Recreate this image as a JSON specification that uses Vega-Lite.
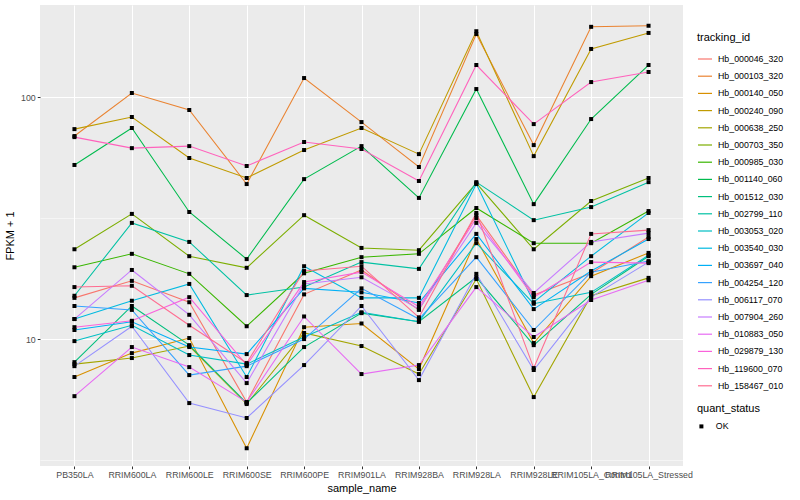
{
  "$schema": "https://vega.github.io/schema/vega-lite/v6.json",
  "width": 643,
  "height": 461,
  "autosize": "none",
  "padding": {"left": 40, "top": 5, "right": 117, "bottom": 34},
  "background": "white",
  "config": {
    "font": "Liberation Sans",
    "view": {"fill": "#EBEBEB", "stroke": null},
    "legend": {"titleFontSize": 11, "titleFontWeight": "normal", "titleColor": "black", "labelFontSize": 8.8, "labelColor": "black"}
  },
  "data": {"values": [
    {"tracking_id":"Hb_000046_320","sample_name":"PB350LA","fpkm":14.8,"quant_status":"OK"},
    {"tracking_id":"Hb_000046_320","sample_name":"RRIM600LA","fpkm":17.4,"quant_status":"OK"},
    {"tracking_id":"Hb_000046_320","sample_name":"RRIM600LE","fpkm":14.2,"quant_status":"OK"},
    {"tracking_id":"Hb_000046_320","sample_name":"RRIM600SE","fpkm":5.49,"quant_status":"OK"},
    {"tracking_id":"Hb_000046_320","sample_name":"RRIM600PE","fpkm":15.3,"quant_status":"OK"},
    {"tracking_id":"Hb_000046_320","sample_name":"RRIM901LA","fpkm":19.3,"quant_status":"OK"},
    {"tracking_id":"Hb_000046_320","sample_name":"RRIM928BA","fpkm":13.2,"quant_status":"OK"},
    {"tracking_id":"Hb_000046_320","sample_name":"RRIM928LA","fpkm":32.5,"quant_status":"OK"},
    {"tracking_id":"Hb_000046_320","sample_name":"RRIM928LE","fpkm":15.2,"quant_status":"OK"},
    {"tracking_id":"Hb_000046_320","sample_name":"RRIM105LA_Control","fpkm":18.7,"quant_status":"OK"},
    {"tracking_id":"Hb_000046_320","sample_name":"RRIM105LA_Stressed","fpkm":26.4,"quant_status":"OK"},
    {"tracking_id":"Hb_000103_320","sample_name":"PB350LA","fpkm":69.0,"quant_status":"OK"},
    {"tracking_id":"Hb_000103_320","sample_name":"RRIM600LA","fpkm":103.9,"quant_status":"OK"},
    {"tracking_id":"Hb_000103_320","sample_name":"RRIM600LE","fpkm":88.4,"quant_status":"OK"},
    {"tracking_id":"Hb_000103_320","sample_name":"RRIM600SE","fpkm":43.7,"quant_status":"OK"},
    {"tracking_id":"Hb_000103_320","sample_name":"RRIM600PE","fpkm":119.8,"quant_status":"OK"},
    {"tracking_id":"Hb_000103_320","sample_name":"RRIM901LA","fpkm":78.8,"quant_status":"OK"},
    {"tracking_id":"Hb_000103_320","sample_name":"RRIM928BA","fpkm":51.4,"quant_status":"OK"},
    {"tracking_id":"Hb_000103_320","sample_name":"RRIM928LA","fpkm":182,"quant_status":"OK"},
    {"tracking_id":"Hb_000103_320","sample_name":"RRIM928LE","fpkm":63.3,"quant_status":"OK"},
    {"tracking_id":"Hb_000103_320","sample_name":"RRIM105LA_Control","fpkm":195,"quant_status":"OK"},
    {"tracking_id":"Hb_000103_320","sample_name":"RRIM105LA_Stressed","fpkm":197,"quant_status":"OK"},
    {"tracking_id":"Hb_000140_050","sample_name":"PB350LA","fpkm":6.97,"quant_status":"OK"},
    {"tracking_id":"Hb_000140_050","sample_name":"RRIM600LA","fpkm":8.75,"quant_status":"OK"},
    {"tracking_id":"Hb_000140_050","sample_name":"RRIM600LE","fpkm":10.1,"quant_status":"OK"},
    {"tracking_id":"Hb_000140_050","sample_name":"RRIM600SE","fpkm":3.54,"quant_status":"OK"},
    {"tracking_id":"Hb_000140_050","sample_name":"RRIM600PE","fpkm":11.2,"quant_status":"OK"},
    {"tracking_id":"Hb_000140_050","sample_name":"RRIM901LA","fpkm":11.6,"quant_status":"OK"},
    {"tracking_id":"Hb_000140_050","sample_name":"RRIM928BA","fpkm":7.52,"quant_status":"OK"},
    {"tracking_id":"Hb_000140_050","sample_name":"RRIM928LA","fpkm":25.9,"quant_status":"OK"},
    {"tracking_id":"Hb_000140_050","sample_name":"RRIM928LE","fpkm":9.63,"quant_status":"OK"},
    {"tracking_id":"Hb_000140_050","sample_name":"RRIM105LA_Control","fpkm":18.2,"quant_status":"OK"},
    {"tracking_id":"Hb_000140_050","sample_name":"RRIM105LA_Stressed","fpkm":22.7,"quant_status":"OK"},
    {"tracking_id":"Hb_000240_090","sample_name":"PB350LA","fpkm":73.7,"quant_status":"OK"},
    {"tracking_id":"Hb_000240_090","sample_name":"RRIM600LA","fpkm":82.7,"quant_status":"OK"},
    {"tracking_id":"Hb_000240_090","sample_name":"RRIM600LE","fpkm":56.0,"quant_status":"OK"},
    {"tracking_id":"Hb_000240_090","sample_name":"RRIM600SE","fpkm":46.3,"quant_status":"OK"},
    {"tracking_id":"Hb_000240_090","sample_name":"RRIM600PE","fpkm":60.4,"quant_status":"OK"},
    {"tracking_id":"Hb_000240_090","sample_name":"RRIM901LA","fpkm":74.5,"quant_status":"OK"},
    {"tracking_id":"Hb_000240_090","sample_name":"RRIM928BA","fpkm":58.1,"quant_status":"OK"},
    {"tracking_id":"Hb_000240_090","sample_name":"RRIM928LA","fpkm":187,"quant_status":"OK"},
    {"tracking_id":"Hb_000240_090","sample_name":"RRIM928LE","fpkm":57.0,"quant_status":"OK"},
    {"tracking_id":"Hb_000240_090","sample_name":"RRIM105LA_Control","fpkm":158,"quant_status":"OK"},
    {"tracking_id":"Hb_000240_090","sample_name":"RRIM105LA_Stressed","fpkm":184,"quant_status":"OK"},
    {"tracking_id":"Hb_000638_250","sample_name":"PB350LA","fpkm":7.88,"quant_status":"OK"},
    {"tracking_id":"Hb_000638_250","sample_name":"RRIM600LA","fpkm":8.35,"quant_status":"OK"},
    {"tracking_id":"Hb_000638_250","sample_name":"RRIM600LE","fpkm":9.36,"quant_status":"OK"},
    {"tracking_id":"Hb_000638_250","sample_name":"RRIM600SE","fpkm":5.39,"quant_status":"OK"},
    {"tracking_id":"Hb_000638_250","sample_name":"RRIM600PE","fpkm":10.6,"quant_status":"OK"},
    {"tracking_id":"Hb_000638_250","sample_name":"RRIM901LA","fpkm":9.36,"quant_status":"OK"},
    {"tracking_id":"Hb_000638_250","sample_name":"RRIM928BA","fpkm":7.17,"quant_status":"OK"},
    {"tracking_id":"Hb_000638_250","sample_name":"RRIM928LA","fpkm":17.7,"quant_status":"OK"},
    {"tracking_id":"Hb_000638_250","sample_name":"RRIM928LE","fpkm":5.76,"quant_status":"OK"},
    {"tracking_id":"Hb_000638_250","sample_name":"RRIM105LA_Control","fpkm":15.1,"quant_status":"OK"},
    {"tracking_id":"Hb_000638_250","sample_name":"RRIM105LA_Stressed","fpkm":17.9,"quant_status":"OK"},
    {"tracking_id":"Hb_000703_350","sample_name":"PB350LA","fpkm":23.5,"quant_status":"OK"},
    {"tracking_id":"Hb_000703_350","sample_name":"RRIM600LA","fpkm":32.9,"quant_status":"OK"},
    {"tracking_id":"Hb_000703_350","sample_name":"RRIM600LE","fpkm":22.0,"quant_status":"OK"},
    {"tracking_id":"Hb_000703_350","sample_name":"RRIM600SE","fpkm":19.7,"quant_status":"OK"},
    {"tracking_id":"Hb_000703_350","sample_name":"RRIM600PE","fpkm":32.5,"quant_status":"OK"},
    {"tracking_id":"Hb_000703_350","sample_name":"RRIM901LA","fpkm":23.8,"quant_status":"OK"},
    {"tracking_id":"Hb_000703_350","sample_name":"RRIM928BA","fpkm":23.3,"quant_status":"OK"},
    {"tracking_id":"Hb_000703_350","sample_name":"RRIM928LA","fpkm":44.1,"quant_status":"OK"},
    {"tracking_id":"Hb_000703_350","sample_name":"RRIM928LE","fpkm":23.5,"quant_status":"OK"},
    {"tracking_id":"Hb_000703_350","sample_name":"RRIM105LA_Control","fpkm":37.2,"quant_status":"OK"},
    {"tracking_id":"Hb_000703_350","sample_name":"RRIM105LA_Stressed","fpkm":46.3,"quant_status":"OK"},
    {"tracking_id":"Hb_000985_030","sample_name":"PB350LA","fpkm":19.8,"quant_status":"OK"},
    {"tracking_id":"Hb_000985_030","sample_name":"RRIM600LA","fpkm":22.5,"quant_status":"OK"},
    {"tracking_id":"Hb_000985_030","sample_name":"RRIM600LE","fpkm":18.6,"quant_status":"OK"},
    {"tracking_id":"Hb_000985_030","sample_name":"RRIM600SE","fpkm":11.3,"quant_status":"OK"},
    {"tracking_id":"Hb_000985_030","sample_name":"RRIM600PE","fpkm":18.7,"quant_status":"OK"},
    {"tracking_id":"Hb_000985_030","sample_name":"RRIM901LA","fpkm":21.8,"quant_status":"OK"},
    {"tracking_id":"Hb_000985_030","sample_name":"RRIM928BA","fpkm":22.5,"quant_status":"OK"},
    {"tracking_id":"Hb_000985_030","sample_name":"RRIM928LA","fpkm":34.8,"quant_status":"OK"},
    {"tracking_id":"Hb_000985_030","sample_name":"RRIM928LE","fpkm":24.9,"quant_status":"OK"},
    {"tracking_id":"Hb_000985_030","sample_name":"RRIM105LA_Control","fpkm":24.9,"quant_status":"OK"},
    {"tracking_id":"Hb_000985_030","sample_name":"RRIM105LA_Stressed","fpkm":33.8,"quant_status":"OK"},
    {"tracking_id":"Hb_001140_060","sample_name":"PB350LA","fpkm":52.4,"quant_status":"OK"},
    {"tracking_id":"Hb_001140_060","sample_name":"RRIM600LA","fpkm":74.5,"quant_status":"OK"},
    {"tracking_id":"Hb_001140_060","sample_name":"RRIM600LE","fpkm":33.5,"quant_status":"OK"},
    {"tracking_id":"Hb_001140_060","sample_name":"RRIM600SE","fpkm":21.4,"quant_status":"OK"},
    {"tracking_id":"Hb_001140_060","sample_name":"RRIM600PE","fpkm":45.8,"quant_status":"OK"},
    {"tracking_id":"Hb_001140_060","sample_name":"RRIM901LA","fpkm":62.7,"quant_status":"OK"},
    {"tracking_id":"Hb_001140_060","sample_name":"RRIM928BA","fpkm":38.3,"quant_status":"OK"},
    {"tracking_id":"Hb_001140_060","sample_name":"RRIM928LA","fpkm":107.9,"quant_status":"OK"},
    {"tracking_id":"Hb_001140_060","sample_name":"RRIM928LE","fpkm":36.1,"quant_status":"OK"},
    {"tracking_id":"Hb_001140_060","sample_name":"RRIM105LA_Control","fpkm":81.1,"quant_status":"OK"},
    {"tracking_id":"Hb_001140_060","sample_name":"RRIM105LA_Stressed","fpkm":135.6,"quant_status":"OK"},
    {"tracking_id":"Hb_001512_030","sample_name":"PB350LA","fpkm":8.03,"quant_status":"OK"},
    {"tracking_id":"Hb_001512_030","sample_name":"RRIM600LA","fpkm":13.7,"quant_status":"OK"},
    {"tracking_id":"Hb_001512_030","sample_name":"RRIM600LE","fpkm":9.44,"quant_status":"OK"},
    {"tracking_id":"Hb_001512_030","sample_name":"RRIM600SE","fpkm":5.44,"quant_status":"OK"},
    {"tracking_id":"Hb_001512_030","sample_name":"RRIM600PE","fpkm":9.27,"quant_status":"OK"},
    {"tracking_id":"Hb_001512_030","sample_name":"RRIM901LA","fpkm":12.8,"quant_status":"OK"},
    {"tracking_id":"Hb_001512_030","sample_name":"RRIM928BA","fpkm":11.8,"quant_status":"OK"},
    {"tracking_id":"Hb_001512_030","sample_name":"RRIM928LA","fpkm":18.0,"quant_status":"OK"},
    {"tracking_id":"Hb_001512_030","sample_name":"RRIM928LE","fpkm":9.44,"quant_status":"OK"},
    {"tracking_id":"Hb_001512_030","sample_name":"RRIM105LA_Control","fpkm":15.3,"quant_status":"OK"},
    {"tracking_id":"Hb_001512_030","sample_name":"RRIM105LA_Stressed","fpkm":22.0,"quant_status":"OK"},
    {"tracking_id":"Hb_002799_110","sample_name":"PB350LA","fpkm":15.1,"quant_status":"OK"},
    {"tracking_id":"Hb_002799_110","sample_name":"RRIM600LA","fpkm":30.2,"quant_status":"OK"},
    {"tracking_id":"Hb_002799_110","sample_name":"RRIM600LE","fpkm":25.2,"quant_status":"OK"},
    {"tracking_id":"Hb_002799_110","sample_name":"RRIM600SE","fpkm":15.2,"quant_status":"OK"},
    {"tracking_id":"Hb_002799_110","sample_name":"RRIM600PE","fpkm":16.4,"quant_status":"OK"},
    {"tracking_id":"Hb_002799_110","sample_name":"RRIM901LA","fpkm":20.8,"quant_status":"OK"},
    {"tracking_id":"Hb_002799_110","sample_name":"RRIM928BA","fpkm":19.5,"quant_status":"OK"},
    {"tracking_id":"Hb_002799_110","sample_name":"RRIM928LA","fpkm":44.5,"quant_status":"OK"},
    {"tracking_id":"Hb_002799_110","sample_name":"RRIM928LE","fpkm":31.0,"quant_status":"OK"},
    {"tracking_id":"Hb_002799_110","sample_name":"RRIM105LA_Control","fpkm":35.1,"quant_status":"OK"},
    {"tracking_id":"Hb_002799_110","sample_name":"RRIM105LA_Stressed","fpkm":44.5,"quant_status":"OK"},
    {"tracking_id":"Hb_003053_020","sample_name":"PB350LA","fpkm":9.81,"quant_status":"OK"},
    {"tracking_id":"Hb_003053_020","sample_name":"RRIM600LA","fpkm":11.4,"quant_status":"OK"},
    {"tracking_id":"Hb_003053_020","sample_name":"RRIM600LE","fpkm":8.59,"quant_status":"OK"},
    {"tracking_id":"Hb_003053_020","sample_name":"RRIM600SE","fpkm":7.88,"quant_status":"OK"},
    {"tracking_id":"Hb_003053_020","sample_name":"RRIM600PE","fpkm":10.2,"quant_status":"OK"},
    {"tracking_id":"Hb_003053_020","sample_name":"RRIM901LA","fpkm":12.9,"quant_status":"OK"},
    {"tracking_id":"Hb_003053_020","sample_name":"RRIM928BA","fpkm":11.8,"quant_status":"OK"},
    {"tracking_id":"Hb_003053_020","sample_name":"RRIM928LA","fpkm":24.9,"quant_status":"OK"},
    {"tracking_id":"Hb_003053_020","sample_name":"RRIM928LE","fpkm":14.0,"quant_status":"OK"},
    {"tracking_id":"Hb_003053_020","sample_name":"RRIM105LA_Control","fpkm":15.6,"quant_status":"OK"},
    {"tracking_id":"Hb_003053_020","sample_name":"RRIM105LA_Stressed","fpkm":22.2,"quant_status":"OK"},
    {"tracking_id":"Hb_003540_030","sample_name":"PB350LA","fpkm":12.1,"quant_status":"OK"},
    {"tracking_id":"Hb_003540_030","sample_name":"RRIM600LA","fpkm":14.4,"quant_status":"OK"},
    {"tracking_id":"Hb_003540_030","sample_name":"RRIM600LE","fpkm":16.9,"quant_status":"OK"},
    {"tracking_id":"Hb_003540_030","sample_name":"RRIM600SE","fpkm":6.97,"quant_status":"OK"},
    {"tracking_id":"Hb_003540_030","sample_name":"RRIM600PE","fpkm":20.0,"quant_status":"OK"},
    {"tracking_id":"Hb_003540_030","sample_name":"RRIM901LA","fpkm":14.8,"quant_status":"OK"},
    {"tracking_id":"Hb_003540_030","sample_name":"RRIM928BA","fpkm":14.8,"quant_status":"OK"},
    {"tracking_id":"Hb_003540_030","sample_name":"RRIM928LA","fpkm":43.7,"quant_status":"OK"},
    {"tracking_id":"Hb_003540_030","sample_name":"RRIM928LE","fpkm":14.2,"quant_status":"OK"},
    {"tracking_id":"Hb_003540_030","sample_name":"RRIM105LA_Control","fpkm":22.0,"quant_status":"OK"},
    {"tracking_id":"Hb_003540_030","sample_name":"RRIM105LA_Stressed","fpkm":33.2,"quant_status":"OK"},
    {"tracking_id":"Hb_003697_040","sample_name":"PB350LA","fpkm":10.9,"quant_status":"OK"},
    {"tracking_id":"Hb_003697_040","sample_name":"RRIM600LA","fpkm":11.8,"quant_status":"OK"},
    {"tracking_id":"Hb_003697_040","sample_name":"RRIM600LE","fpkm":9.27,"quant_status":"OK"},
    {"tracking_id":"Hb_003697_040","sample_name":"RRIM600SE","fpkm":8.67,"quant_status":"OK"},
    {"tracking_id":"Hb_003697_040","sample_name":"RRIM600PE","fpkm":16.2,"quant_status":"OK"},
    {"tracking_id":"Hb_003697_040","sample_name":"RRIM901LA","fpkm":15.6,"quant_status":"OK"},
    {"tracking_id":"Hb_003697_040","sample_name":"RRIM928BA","fpkm":14.1,"quant_status":"OK"},
    {"tracking_id":"Hb_003697_040","sample_name":"RRIM928LA","fpkm":27.2,"quant_status":"OK"},
    {"tracking_id":"Hb_003697_040","sample_name":"RRIM928LE","fpkm":13.3,"quant_status":"OK"},
    {"tracking_id":"Hb_003697_040","sample_name":"RRIM105LA_Control","fpkm":19.1,"quant_status":"OK"},
    {"tracking_id":"Hb_003697_040","sample_name":"RRIM105LA_Stressed","fpkm":25.9,"quant_status":"OK"},
    {"tracking_id":"Hb_004254_120","sample_name":"PB350LA","fpkm":13.7,"quant_status":"OK"},
    {"tracking_id":"Hb_004254_120","sample_name":"RRIM600LA","fpkm":13.2,"quant_status":"OK"},
    {"tracking_id":"Hb_004254_120","sample_name":"RRIM600LE","fpkm":7.10,"quant_status":"OK"},
    {"tracking_id":"Hb_004254_120","sample_name":"RRIM600SE","fpkm":7.73,"quant_status":"OK"},
    {"tracking_id":"Hb_004254_120","sample_name":"RRIM600PE","fpkm":10.0,"quant_status":"OK"},
    {"tracking_id":"Hb_004254_120","sample_name":"RRIM901LA","fpkm":16.2,"quant_status":"OK"},
    {"tracking_id":"Hb_004254_120","sample_name":"RRIM928BA","fpkm":12.1,"quant_status":"OK"},
    {"tracking_id":"Hb_004254_120","sample_name":"RRIM928LA","fpkm":21.8,"quant_status":"OK"},
    {"tracking_id":"Hb_004254_120","sample_name":"RRIM928LE","fpkm":10.9,"quant_status":"OK"},
    {"tracking_id":"Hb_004254_120","sample_name":"RRIM105LA_Control","fpkm":18.9,"quant_status":"OK"},
    {"tracking_id":"Hb_004254_120","sample_name":"RRIM105LA_Stressed","fpkm":21.0,"quant_status":"OK"},
    {"tracking_id":"Hb_006117_070","sample_name":"PB350LA","fpkm":7.73,"quant_status":"OK"},
    {"tracking_id":"Hb_006117_070","sample_name":"RRIM600LA","fpkm":11.3,"quant_status":"OK"},
    {"tracking_id":"Hb_006117_070","sample_name":"RRIM600LE","fpkm":5.44,"quant_status":"OK"},
    {"tracking_id":"Hb_006117_070","sample_name":"RRIM600SE","fpkm":4.72,"quant_status":"OK"},
    {"tracking_id":"Hb_006117_070","sample_name":"RRIM600PE","fpkm":7.81,"quant_status":"OK"},
    {"tracking_id":"Hb_006117_070","sample_name":"RRIM901LA","fpkm":13.7,"quant_status":"OK"},
    {"tracking_id":"Hb_006117_070","sample_name":"RRIM928BA","fpkm":6.77,"quant_status":"OK"},
    {"tracking_id":"Hb_006117_070","sample_name":"RRIM928LA","fpkm":18.6,"quant_status":"OK"},
    {"tracking_id":"Hb_006117_070","sample_name":"RRIM928LE","fpkm":7.45,"quant_status":"OK"},
    {"tracking_id":"Hb_006117_070","sample_name":"RRIM105LA_Control","fpkm":14.9,"quant_status":"OK"},
    {"tracking_id":"Hb_006117_070","sample_name":"RRIM105LA_Stressed","fpkm":20.8,"quant_status":"OK"},
    {"tracking_id":"Hb_007904_260","sample_name":"PB350LA","fpkm":12.1,"quant_status":"OK"},
    {"tracking_id":"Hb_007904_260","sample_name":"RRIM600LA","fpkm":19.3,"quant_status":"OK"},
    {"tracking_id":"Hb_007904_260","sample_name":"RRIM600LE","fpkm":12.6,"quant_status":"OK"},
    {"tracking_id":"Hb_007904_260","sample_name":"RRIM600SE","fpkm":6.58,"quant_status":"OK"},
    {"tracking_id":"Hb_007904_260","sample_name":"RRIM600PE","fpkm":16.9,"quant_status":"OK"},
    {"tracking_id":"Hb_007904_260","sample_name":"RRIM901LA","fpkm":18.0,"quant_status":"OK"},
    {"tracking_id":"Hb_007904_260","sample_name":"RRIM928BA","fpkm":13.3,"quant_status":"OK"},
    {"tracking_id":"Hb_007904_260","sample_name":"RRIM928LA","fpkm":30.2,"quant_status":"OK"},
    {"tracking_id":"Hb_007904_260","sample_name":"RRIM928LE","fpkm":15.5,"quant_status":"OK"},
    {"tracking_id":"Hb_007904_260","sample_name":"RRIM105LA_Control","fpkm":25.2,"quant_status":"OK"},
    {"tracking_id":"Hb_007904_260","sample_name":"RRIM105LA_Stressed","fpkm":27.4,"quant_status":"OK"},
    {"tracking_id":"Hb_010883_050","sample_name":"PB350LA","fpkm":5.81,"quant_status":"OK"},
    {"tracking_id":"Hb_010883_050","sample_name":"RRIM600LA","fpkm":9.27,"quant_status":"OK"},
    {"tracking_id":"Hb_010883_050","sample_name":"RRIM600LE","fpkm":7.66,"quant_status":"OK"},
    {"tracking_id":"Hb_010883_050","sample_name":"RRIM600SE","fpkm":5.49,"quant_status":"OK"},
    {"tracking_id":"Hb_010883_050","sample_name":"RRIM600PE","fpkm":12.4,"quant_status":"OK"},
    {"tracking_id":"Hb_010883_050","sample_name":"RRIM901LA","fpkm":7.17,"quant_status":"OK"},
    {"tracking_id":"Hb_010883_050","sample_name":"RRIM928BA","fpkm":7.81,"quant_status":"OK"},
    {"tracking_id":"Hb_010883_050","sample_name":"RRIM928LA","fpkm":16.4,"quant_status":"OK"},
    {"tracking_id":"Hb_010883_050","sample_name":"RRIM928LE","fpkm":10.2,"quant_status":"OK"},
    {"tracking_id":"Hb_010883_050","sample_name":"RRIM105LA_Control","fpkm":14.5,"quant_status":"OK"},
    {"tracking_id":"Hb_010883_050","sample_name":"RRIM105LA_Stressed","fpkm":17.5,"quant_status":"OK"},
    {"tracking_id":"Hb_029879_130","sample_name":"PB350LA","fpkm":11.2,"quant_status":"OK"},
    {"tracking_id":"Hb_029879_130","sample_name":"RRIM600LA","fpkm":11.9,"quant_status":"OK"},
    {"tracking_id":"Hb_029879_130","sample_name":"RRIM600LE","fpkm":14.9,"quant_status":"OK"},
    {"tracking_id":"Hb_029879_130","sample_name":"RRIM600SE","fpkm":7.81,"quant_status":"OK"},
    {"tracking_id":"Hb_029879_130","sample_name":"RRIM600PE","fpkm":17.2,"quant_status":"OK"},
    {"tracking_id":"Hb_029879_130","sample_name":"RRIM901LA","fpkm":18.9,"quant_status":"OK"},
    {"tracking_id":"Hb_029879_130","sample_name":"RRIM928BA","fpkm":13.6,"quant_status":"OK"},
    {"tracking_id":"Hb_029879_130","sample_name":"RRIM928LA","fpkm":31.6,"quant_status":"OK"},
    {"tracking_id":"Hb_029879_130","sample_name":"RRIM928LE","fpkm":14.9,"quant_status":"OK"},
    {"tracking_id":"Hb_029879_130","sample_name":"RRIM105LA_Control","fpkm":20.8,"quant_status":"OK"},
    {"tracking_id":"Hb_029879_130","sample_name":"RRIM105LA_Stressed","fpkm":20.6,"quant_status":"OK"},
    {"tracking_id":"Hb_119600_070","sample_name":"PB350LA","fpkm":68.3,"quant_status":"OK"},
    {"tracking_id":"Hb_119600_070","sample_name":"RRIM600LA","fpkm":61.5,"quant_status":"OK"},
    {"tracking_id":"Hb_119600_070","sample_name":"RRIM600LE","fpkm":62.7,"quant_status":"OK"},
    {"tracking_id":"Hb_119600_070","sample_name":"RRIM600SE","fpkm":51.9,"quant_status":"OK"},
    {"tracking_id":"Hb_119600_070","sample_name":"RRIM600PE","fpkm":65.2,"quant_status":"OK"},
    {"tracking_id":"Hb_119600_070","sample_name":"RRIM901LA","fpkm":61.0,"quant_status":"OK"},
    {"tracking_id":"Hb_119600_070","sample_name":"RRIM928BA","fpkm":45.0,"quant_status":"OK"},
    {"tracking_id":"Hb_119600_070","sample_name":"RRIM928LA","fpkm":135.6,"quant_status":"OK"},
    {"tracking_id":"Hb_119600_070","sample_name":"RRIM928LE","fpkm":77.3,"quant_status":"OK"},
    {"tracking_id":"Hb_119600_070","sample_name":"RRIM105LA_Control","fpkm":115.3,"quant_status":"OK"},
    {"tracking_id":"Hb_119600_070","sample_name":"RRIM105LA_Stressed","fpkm":126.9,"quant_status":"OK"},
    {"tracking_id":"Hb_158467_010","sample_name":"PB350LA","fpkm":16.4,"quant_status":"OK"},
    {"tracking_id":"Hb_158467_010","sample_name":"RRIM600LA","fpkm":16.6,"quant_status":"OK"},
    {"tracking_id":"Hb_158467_010","sample_name":"RRIM600LE","fpkm":11.4,"quant_status":"OK"},
    {"tracking_id":"Hb_158467_010","sample_name":"RRIM600SE","fpkm":7.96,"quant_status":"OK"},
    {"tracking_id":"Hb_158467_010","sample_name":"RRIM600PE","fpkm":19.1,"quant_status":"OK"},
    {"tracking_id":"Hb_158467_010","sample_name":"RRIM901LA","fpkm":20.0,"quant_status":"OK"},
    {"tracking_id":"Hb_158467_010","sample_name":"RRIM928BA","fpkm":12.3,"quant_status":"OK"},
    {"tracking_id":"Hb_158467_010","sample_name":"RRIM928LA","fpkm":33.2,"quant_status":"OK"},
    {"tracking_id":"Hb_158467_010","sample_name":"RRIM928LE","fpkm":7.59,"quant_status":"OK"},
    {"tracking_id":"Hb_158467_010","sample_name":"RRIM105LA_Control","fpkm":27.2,"quant_status":"OK"},
    {"tracking_id":"Hb_158467_010","sample_name":"RRIM105LA_Stressed","fpkm":28.2,"quant_status":"OK"}
  ]},
  "encoding": {
    "x": {
      "field": "sample_name", "type": "nominal",
      "scale": {"type": "point", "padding": 0.6, "domain": ["PB350LA","RRIM600LA","RRIM600LE","RRIM600SE","RRIM600PE","RRIM901LA","RRIM928BA","RRIM928LA","RRIM928LE","RRIM105LA_Control","RRIM105LA_Stressed"]},
      "axis": {"title": "sample_name", "labelAngle": 0, "labelFontSize": 8.8, "labelColor": "#4D4D4D", "labelPadding": 2, "tickColor": "#333333", "tickSize": 2.75, "tickWidth": 1, "domain": false, "grid": true, "gridColor": "white", "gridWidth": 1.07, "titleFontSize": 11, "titleFontWeight": "normal", "titleColor": "black", "titlePadding": 3}
    },
    "y": {
      "field": "fpkm", "type": "quantitative",
      "scale": {"type": "log", "domain": [2.99, 240], "nice": false, "zero": false},
      "axis": {"title": "FPKM + 1", "values": [3.16227766, 10, 31.6227766, 100], "labelExpr": "datum.value == 10 ? '10' : datum.value == 100 ? '100' : ''", "labelFontSize": 8.8, "labelColor": "#4D4D4D", "labelPadding": 2, "tickColor": "#333333", "tickSize": 2.75, "tickOpacity": {"condition": {"test": "datum.value == 10 || datum.value == 100", "value": 1}, "value": 0}, "domain": false, "grid": true, "gridColor": "white", "gridWidth": {"condition": {"test": "datum.value == 10 || datum.value == 100", "value": 1.07}, "value": 0.53}, "titleFontSize": 11, "titleFontWeight": "normal", "titleColor": "black", "titlePadding": 5}
    }
  },
  "layer": [
    {
      "mark": {"type": "line", "strokeWidth": 1.07},
      "encoding": {
        "color": {
          "field": "tracking_id", "type": "nominal",
          "scale": {"domain": ["Hb_000046_320","Hb_000103_320","Hb_000140_050","Hb_000240_090","Hb_000638_250","Hb_000703_350","Hb_000985_030","Hb_001140_060","Hb_001512_030","Hb_002799_110","Hb_003053_020","Hb_003540_030","Hb_003697_040","Hb_004254_120","Hb_006117_070","Hb_007904_260","Hb_010883_050","Hb_029879_130","Hb_119600_070","Hb_158467_010"],
                    "range": ["#F8766D","#EA8331","#D89000","#C09B00","#A3A500","#7CAE00","#39B600","#00BB4E","#00BF7D","#00C1A3","#00BFC4","#00BAE0","#00B0F6","#35A2FF","#9590FF","#C77CFF","#E76BF3","#FA62DB","#FF62BC","#FF6C91"]},
          "legend": {"title": "tracking_id", "orient": "none", "legendX": 657, "legendY": 27, "symbolType": "stroke", "symbolSize": 196, "symbolStrokeWidth": 1.2, "rowPadding": 4.2, "labelOffset": 5, "titlePadding": 8}
        }
      }
    },
    {
      "mark": {"type": "point", "filled": true, "size": 16, "opacity": 1},
      "encoding": {
        "color": {"value": "black"},
        "shape": {"field": "quant_status", "type": "nominal", "scale": {"range": ["square"]}, "legend": {"title": "quant_status", "orient": "none", "legendX": 657, "legendY": 398, "symbolSize": 16, "symbolFillColor": "black", "titlePadding": 8, "labelOffset": 10}}
      }
    }
  ]
}
